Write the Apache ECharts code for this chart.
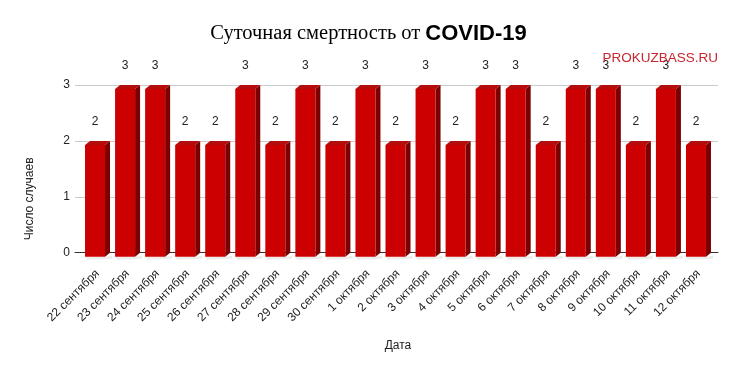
<!DOCTYPE html>
<html><head><meta charset="utf-8">
<script src="https://cdn.jsdelivr.net/npm/echarts@6/dist/echarts.min.js"></script>
<style>html,body{margin:0;padding:0;background:#fff}#c{width:737px;height:371px}</style>
</head><body><div id="c"></div>
<script>
const categories = ['22 сентября','23 сентября','24 сентября','25 сентября','26 сентября','27 сентября','28 сентября','29 сентября','30 сентября','1 октября','2 октября','3 октября','4 октября','5 октября','6 октября','7 октября','8 октября','9 октября','10 октября','11 октября','12 октября'];
const values = [2,3,3,2,2,3,2,3,2,3,2,3,2,3,3,2,3,3,2,3,2];
const yTicks = [0,1,2,3];
const titleMain = 'Суточная смертность от';
const titleBold = 'COVID-19';
const watermark = 'PROKUZBASS.RU';
const yName = 'Число случаев';
const xName = 'Дата';

const chart = echarts.init(document.getElementById('c'), null, {renderer:'canvas'});
const FONT = 'Liberation Sans, Arial, sans-serif';
const W = 20, DX = 5, DY = 4;

function renderBar(params, api) {
  const i = api.value(0), v = api.value(1);
  const p = api.coord([i, v]);
  const p0 = api.coord([i, 0]);
  const fl = p[0] - 12.5, fr = fl + W;
  const ft = p[1] + DY, fb = p0[1] + DY;
  return {
    type: 'group',
    children: [
      {type:'polygon', shape:{points:[[fl,fb],[fr,fb],[fr+DX+2,fb-DY+3],[fr+DX+2,fb+2],[fl+2,fb+3]]}, style:{fill:'#ececec'}, z2:0},
      {type:'polygon', shape:{points:[[fr,ft],[fr+DX,ft-DY],[fr+DX,fb-DY],[fr,fb]]}, style:{fill:'#7d0000'}, z2:1},
      {type:'polygon', shape:{points:[[fl,ft],[fl+DX,ft-DY],[fr+DX,ft-DY],[fr,ft]]}, style:{fill:'#b30d0d'}, z2:1},
      {type:'rect', shape:{x:fl, y:ft, width:W, height:fb-ft}, style:{fill:'#cc0000'}, z2:2},
      {type:'text', style:{text:String(v), x:fl+W/2, y:p[1]-19, align:'center', verticalAlign:'middle', fill:'#222', font:'12px ' + FONT}, z2:3}
    ]
  };
}

chart.setOption({
  animation:false,
  backgroundColor:'#fff',
  title:[
    {text:'{a|' + titleMain + '} {b|' + titleBold + '}', left:'center', top:18,
     textStyle:{rich:{a:{fontFamily:'Liberation Serif, Times New Roman, serif', fontSize:20.5, fontWeight:'normal', color:'#000'},
                      b:{fontFamily:FONT, fontSize:22, fontWeight:'900', color:'#000'}}}},
    {text:watermark, right:19, top:51, padding:0, textStyle:{fontFamily:FONT, fontSize:13.5, fontWeight:'normal', color:'#c9252e'}}
  ],
  grid:[
    {left:75, right:19, top:85, bottom:118.3},
    {left:82.5, right:23.5, top:85, bottom:118.3}
  ],
  xAxis:[
    {gridIndex:0, type:'value', min:0, max:1, show:true, axisLabel:{show:false}, axisTick:{show:false}, splitLine:{show:false}, axisLine:{show:true, onZero:false, lineStyle:{color:'#333', width:1}}},
    {gridIndex:1, type:'category', data:categories, axisLine:{show:false}, axisTick:{show:false},
     axisLabel:{rotate:45, interval:0, margin:19, color:'#222', fontSize:12, fontFamily:FONT},
     name:xName, nameLocation:'middle', nameGap:87, nameTextStyle:{color:'#222', fontSize:12, fontFamily:FONT}}
  ],
  yAxis:[
    {gridIndex:0, type:'value', min:yTicks[0], max:yTicks[yTicks.length-1], interval:1,
     axisLine:{show:false}, axisTick:{show:false},
     axisLabel:{margin:5, color:'#222', fontSize:12, fontFamily:FONT},
     splitLine:{show:true, lineStyle:{color:'#cccccc', width:1}},
     name:yName, nameLocation:'middle', nameGap:39, nameRotate:90,
     nameTextStyle:{color:'#222', fontSize:12, fontFamily:FONT, padding:[0,60,0,0]}},
    {gridIndex:1, type:'value', min:yTicks[0], max:yTicks[yTicks.length-1], interval:1, show:false}
  ],
  series:[{
    type:'custom', xAxisIndex:1, yAxisIndex:1,
    data: values.map((v,i)=>[i,v]),
    renderItem: renderBar,
    clip:false
  }]
});
</script></body></html>
